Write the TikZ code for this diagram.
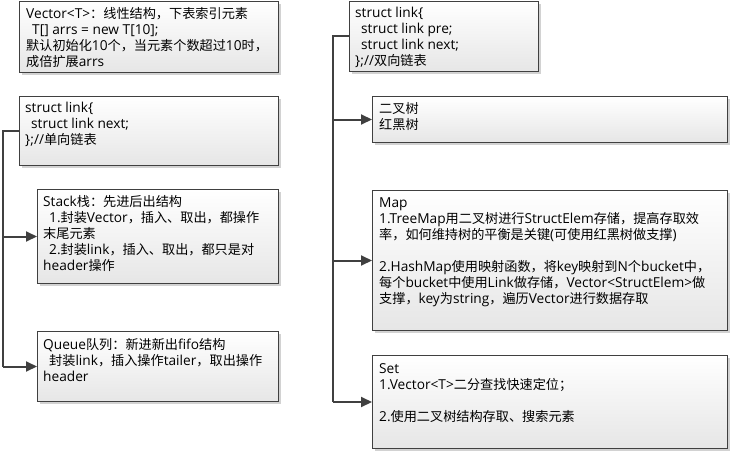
\documentclass[tikz,border=0pt]{standalone}
\usepackage{fontspec}
\setmainfont{Open Sans}
\newfontfamily\cjkfont[Scale=0.96]{Noto Sans CJK SC}
\XeTeXinterchartokenstate=1
\newXeTeXintercharclass\cjkclass
\makeatletter
\newcount\my@c
\def\my@setrange#1#2{\my@c=#1\relax
  \loop\ifnum\my@c<#2\relax\XeTeXcharclass\my@c=\cjkclass\advance\my@c by 1\repeat}
\makeatother
\csname my@setrange\endcsname{"4E00}{"A000}
\csname my@setrange\endcsname{"3000}{"3040}
\csname my@setrange\endcsname{"FF00}{"FF60}
\XeTeXinterchartoks 0 \cjkclass = {\begingroup\cjkfont}
\XeTeXinterchartoks 4095 \cjkclass = {\begingroup\cjkfont}
\XeTeXinterchartoks \cjkclass 0 = {\endgroup}
\XeTeXinterchartoks \cjkclass 4095 = {\endgroup}
\usetikzlibrary{arrows.meta,shadows}
\definecolor{edge}{HTML}{404040}
\definecolor{boxbot}{HTML}{E6E6E6}
\tikzset{
  box/.style={draw=edge, line width=1pt, rectangle, top color=white, bottom color=boxbot,
    anchor=north west, inner sep=0pt,
    drop shadow={shadow xshift=2.5pt, shadow yshift=-2.5pt, fill=black!35, opacity=0.5}},
  txt/.style={anchor=north west, align=left, inner sep=0pt, font=\fontsize{13.7}{16}\selectfont, text=black},
  conn/.style={draw=edge, line width=2pt},
  arr/.style={conn, -{Triangle[length=11pt,width=10pt]}}
}
\newcommand{\ind}{\hspace*{6pt}}
\begin{document}
\begin{tikzpicture}[x=1pt,y=-1pt]
\useasboundingbox (0,0) rectangle (730,452);
% left column
\node[box, minimum width=259pt, minimum height=71pt] (b1) at (19,1) {};
\node[txt] (t1) at (26,7) {Vector<T>：线性结构，下表索引元素\\\ind T[] arrs = new T[10];\\默认初始化10个，当元素个数超过10时，\\成倍扩展arrs};
\node[box, minimum width=259pt, minimum height=69pt] (b2) at (19,96) {};
\node[txt] (t2) at (25,102) {struct link\{\\\ind struct link next;\\\};//单向链表};
\node[box, minimum width=241pt, minimum height=94pt] (b3) at (37,189) {};
\node[txt] (t3) at (43,195) {Stack栈：先进后出结构\\\ind 1.封装Vector，插入、取出，都操作\\末尾元素\\\ind 2.封装link，插入、取出，都只是对\\header操作};
\node[box, minimum width=241pt, minimum height=70pt] (b4) at (37,331) {};
\node[txt] (t4) at (43,338) {Queue队列：新进新出fifo结构\\\ind 封装link，插入操作tailer，取出操作\\header};
% right column
\node[box, minimum width=189pt, minimum height=70pt] (b5) at (349,1) {};
\node[txt] (t5) at (355,7) {struct link\{\\\ind struct link pre;\\\ind struct link next;\\\};//双向链表};
\node[box, minimum width=355pt, minimum height=46pt] (b6) at (372,96) {};
\node[txt] (t6) at (379,102) {二叉树\\红黑树};
\node[box, minimum width=355pt, minimum height=140pt] (b7) at (372,190) {};
\node[txt] (t7) at (379,198) {Map\\1.TreeMap用二叉树进行StructElem存储，提高存取效\\率，如何维持树的平衡是关键(可使用红黑树做支撑)\\[16pt]2.HashMap使用映射函数，将key映射到N个bucket中，\\每个bucket中使用Link做存储，Vector<StructElem>做\\支撑，key为string，遍历Vector进行数据存取};
\node[box, minimum width=355pt, minimum height=93pt] (b8) at (372,355) {};
\node[txt] (t8) at (379,363) {Set\\1.Vector<T>二分查找快速定位；\\[16pt]2.使用二叉树结构存取、搜索元素};
% connectors
\draw[conn] (b2.west) -- ++(-16,0) coordinate (lc) -- (lc |- b4.west);
\draw[arr] (lc |- b3.west) -- (b3.west);
\draw[arr] (lc |- b4.west) -- (b4.west);
\draw[conn] (b5.west) -- ++(-16,0) coordinate (rc) -- (rc |- b8.west);
\draw[arr] (rc |- b6.west) -- (b6.west);
\draw[arr] (rc |- b7.west) -- (b7.west);
\draw[arr] (rc |- b8.west) -- (b8.west);
\end{tikzpicture}
\end{document}
